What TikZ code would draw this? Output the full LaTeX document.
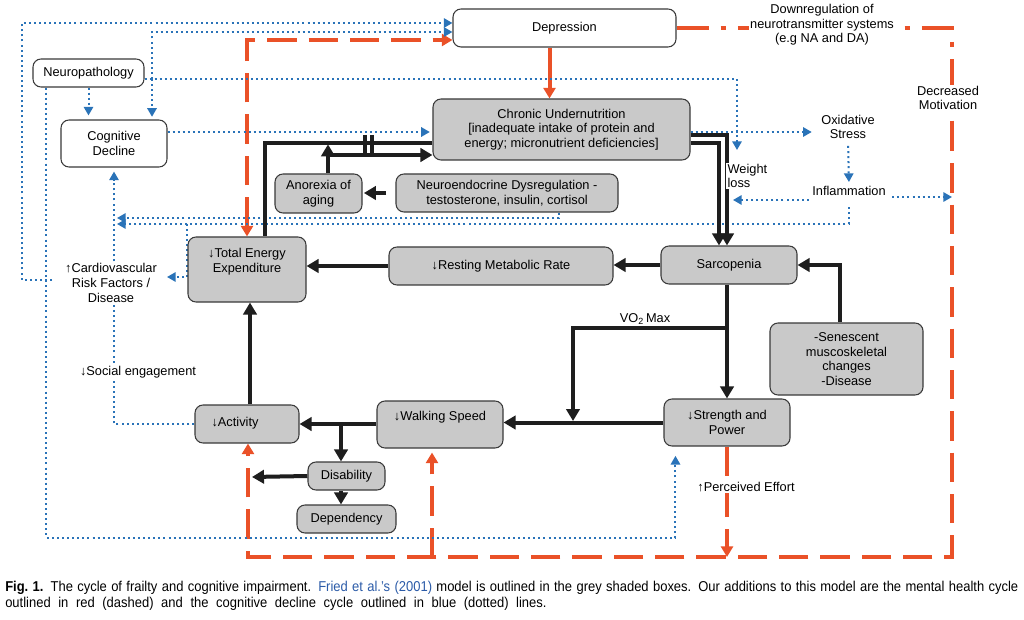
\documentclass[tikz,border=0pt]{standalone}
\usepackage{fontspec}
\setmainfont{Liberation Sans}
\newfontfamily\capfontb[FakeStretch=0.91]{Liberation Sans}
\usetikzlibrary{arrows.meta,calc}
\pgfdeclarelayer{bg}
\pgfsetlayers{bg,main}
\definecolor{rd}{HTML}{EA5128}
\definecolor{bl}{HTML}{2A73B8}
\definecolor{gfill}{HTML}{C9C9C9}
\definecolor{bord}{HTML}{3A3A3A}
\definecolor{blk}{HTML}{1E1E1E}
\definecolor{capblue}{HTML}{2B5BA8}
\begin{document}
\begin{tikzpicture}[x=0.75pt,y=-0.75pt,font=\fontsize{9.6pt}{11pt}\selectfont,
 wbox/.style={draw=bord,line width=0.8pt,rounded corners=6pt,fill=white,align=center,inner sep=0pt},
 gbox/.style={wbox,fill=gfill},
 txt/.style={align=center,inner sep=1pt},
 wtxt/.style={txt,fill=white},
 captxt/.style={anchor=base west,inner sep=0pt,font=\capfontb\fontsize{10.7pt}{12pt}\selectfont},
 blkline/.style={draw=blk,line width=3pt},
 blkarr/.style={blkline,-{Triangle[length=9pt,width=10pt]}},
 rdash/.style={draw=rd,line width=3pt,dash pattern=on 22pt off 9pt},
 rtip/.style={-{Triangle[length=8pt,width=9pt]}},
 bdot/.style={draw=bl,line width=1.5pt,dash pattern=on 1.5pt off 2.3pt,-{Triangle[length=6.5pt,width=7pt]}}
]
\useasboundingbox (0,0) rectangle (1024,620);
\begin{pgfonlayer}{bg}
\fill[white] (0,0) rectangle (1024,620);
\end{pgfonlayer}

% ---------- boxes ----------
\node[wbox,minimum width=167.25pt,minimum height=28.5pt] (dep) at (564.5,28) {Depression};
\node[wbox,minimum width=83.25pt,minimum height=21pt] (neuro) at (88.5,73) {Neuropathology};
\node[wbox,minimum width=79.5pt,minimum height=35.25pt] (cog) at (114,143.5) {Cognitive\\Decline};
\node[gbox,minimum width=192.75pt,minimum height=45.75pt] (cu) at (561.5,129.5) {Chronic Undernutrition\\{[}inadequate intake of protein and\\energy; micronutrient deficiencies]};
\node[gbox,minimum width=65.25pt,minimum height=29.25pt] (anor) at (318.5,193.5) {Anorexia of\\aging};
\node[gbox,minimum width=166.5pt,minimum height=28.5pt] (ne) at (507,193) {Neuroendocrine Dysregulation -\\testosterone, insulin, cortisol};
\node[gbox,minimum width=88.5pt,minimum height=48.75pt] (tee) at (247,269.5) {};
\node[txt] (teeT) at (247,262) {↓Total Energy\\Expenditure};
\node[gbox,minimum width=168pt,minimum height=28.5pt] (rmr) at (501,266) {↓Resting Metabolic Rate};
\node[gbox,minimum width=102pt,minimum height=28.5pt] (sarc) at (729,265) {Sarcopenia};
\node[gbox,minimum width=114.75pt,minimum height=54pt] (sen) at (846.5,359) {-Senescent\\muscoskeletal\\changes\\-Disease};
\node[gbox,minimum width=94.5pt,minimum height=35.25pt] (str) at (727,422.5) {↓Strength and\\Power};
\node[gbox,minimum width=94.5pt,minimum height=35.25pt] (walk) at (440,424.5) {};
\node[txt] (walkT) at (440,417) {↓Walking Speed};
\node[gbox,minimum width=78pt,minimum height=28.5pt] (act) at (247,424) {};
\node[txt] (actT) at (235,423) {↓Activity};
\node[gbox,minimum width=57.75pt,minimum height=21pt] (dis) at (346.5,476) {Disability};
\node[gbox,minimum width=74.25pt,minimum height=21pt] (depd) at (346.5,519) {Dependency};

% ---------- free texts ----------
\node[wtxt] (down) at (822,25) {Downregulation of\\neurotransmitter systems\\(e.g NA and DA)};
\node[wtxt] (motiv) at (948,98) {Decreased\\Motivation};
\node[txt] (oxi) at (848,127) {Oxidative\\Stress};
\node[wtxt,align=left,anchor=west] (wl) at (726,176) {Weight\\loss};
\node[txt] (infl) at (849,191) {Inflammation};
\node[wtxt] (cardio) at (111,283) {↑Cardiovascular\\Risk Factors /\\Disease};
\node[wtxt] (social) at (138,372) {↓Social engagement};
\node[txt] (vo) at (645,319) {VO\textsubscript{2}\,Max};
\node[wtxt] (pe) at (746,487) {↑Perceived Effort};

% ---------- coordinates ----------
\coordinate (rtr) at (952,28);
\coordinate (rmid) at (952,122);
\coordinate (rbr) at (952,557);
\coordinate (rbl) at (248,557);
\coordinate (wb) at (432,557);
\coordinate (cvl) at (52,280);
\coordinate (nj) at (152,79);
\coordinate (wlt) at (737,150);
\coordinate (wlb) at (733,200);
\coordinate (cda) at (117,221);
\coordinate (vb) at (727,328);
\coordinate (vt) at (573,421);
\coordinate (wd) at (341,424);
\coordinate (dl) at (252,477);

\begin{pgfonlayer}{bg}
% ---------- red (mental health) ----------
\draw[rdash,{Triangle[length=8pt,width=9pt]}-{Triangle[length=8pt,width=9pt]}] (tee.north) |- ($(dep.west)+(0,12)$);
\coordinate (dc) at ($(dep.south)+(-15,0)$);
\draw[draw=rd,line width=3pt,rtip] (dc) -- (dc |- cu.north);
\draw[draw=rd,line width=3pt,dash pattern=on 24pt off 9pt on 4pt off 9pt] (dep.east) -- (rtr) -- (rmid);
\draw[rdash,rtip] (rmid) -- (rbr) -- (rbl) -- (rbl |- act.south);
\draw[rdash,rtip,shorten >=3pt] (wb) -- (wb |- walk.south);
\draw[rdash,rtip] (str.south) -- (str.south |- rbr);

% ---------- blue (cognitive) ----------
\draw[bdot] (cvl) -| (22,23) -- ($(dep.west)+(0,-5)$);
\coordinate (nsw) at ($(neuro.south west)+(14,0)$);
\coordinate (sb) at ($(str.south west)+(12,0)$);
\draw[bdot,shorten >=7pt] (nsw) -- (nsw |- 0,538) -| (sb);
\coordinate (ne1) at ($(neuro.east)+(0,6)$);
\draw[bdot] (ne1) -| (wlt);
\draw[bdot] (nj) |- ($(dep.west)+(0,4)$);
\draw[bdot,shorten >=2pt] (nj) -- (nj |- cog.north);
\draw[bdot,shorten >=3pt] (neuro.south) -- (neuro.south |- cog.north);
\coordinate (c1) at ($(cog.east)+(0,-11.5)$);
\draw[bdot,shorten >=2pt] (c1) -- (c1 -| cu.west);
\coordinate (c2) at ($(cu.east)+(0,2.5)$);
\draw[bdot,shorten >=6pt] (c2) -- (c2 -| oxi.west);
\draw[bdot,shorten <=4pt,shorten >=2pt] (oxi.south) -- (infl.north);
\coordinate (i1) at ($(infl.west)+(-2,9)$);
\draw[bdot] (i1) -- (wlb);
\coordinate (i2) at ($(infl.east)+(5,6)$);
\draw[bdot] (i2) -- (i2 -| rtr);
\coordinate (i3) at ($(infl.south)+(0,10)$);
\draw[bdot] (i3) |- ($(cda)+(0,3)$);
\coordinate (n3) at ($(ne.south)+(52,0)$);
\draw[bdot] (n3) |- ($(cda)+(0,-3)$);
\coordinate (t1) at (187,224);
\coordinate (t3) at (167,277);
\draw[bdot] (t1) |- (t3);
\draw[bdot,shorten >=3pt] (act.west) -| (cog.south);

% ---------- black (Fried model) ----------
\coordinate (k1) at ($(cu.west)+(0,13.5)$);
\draw[blkline] (k1) -| ($(tee.north)+(18,0)$);
\draw[blkline,line width=2.5pt] (365,135) -- (365,153);
\draw[blkline,line width=2.5pt] (372,135) -- (372,153);
\coordinate (a1) at ($(anor.north)+(9.5,0)$);
\coordinate (a2) at ($(cu.west)+(0,25.5)$);
\draw[blkarr,shorten >=1pt] (a1) -- (a1 |- k1);
\draw[blkarr] (a2 -| a1) -- (a2);
\draw[blkarr,shorten <=7pt,shorten >=1pt] (ne.west) -- (ne.west -| anor.east);
\coordinate (o1) at ($(cu.east)+(0,6)$);
\coordinate (o2) at ($(cu.east)+(0,14)$);
\draw[blkarr] (o1) -| ($(sarc.north)+(-2,0)$);
\draw[blkarr] (o2) -| ($(sarc.north)+(-10,0)$);
\draw[blkarr] (sarc.west) -- (sarc.west -| rmr.east);
\draw[blkarr] (rmr.west) -- (rmr.west -| tee.east);
\coordinate (s1) at ($(sen.north)+(-6.5,0)$);
\draw[blkarr] (s1) |- (sarc.east);
\draw[blkarr] (sarc.south -| str.north) -- (str.north);
\draw[blkarr] (vb) -| (vt);
\draw[blkarr] (str.west) -- (str.west -| walk.east);
\draw[blkarr] ($(walk.west)+(0,-0.5)$) -- ($(walk.west -| act.east)+(0,-0.5)$);
\draw[blkarr] (wd) -- (wd |- dis.north);
\draw[blkarr] (dis.west) -- (dl);
\coordinate (dd) at ($(dis.south)+(-5.5,0)$);
\draw[blkarr] (dd) -- (dd |- depd.north);
\coordinate (at) at ($(act.north)+(3,0)$);
\draw[blkarr] (at) -- (at |- tee.south);
\end{pgfonlayer}

% ---------- caption ----------
\node[captxt] (cap1) at (5,591) {\makebox[759.75pt][s]{\textbf{Fig.~1.}\enspace The cycle of frailty and cognitive impairment. \textcolor{capblue}{Fried et al.’s (2001)} model is outlined in the grey shaded boxes. Our additions to this model are the mental health cycle}};
\node[captxt] (cap2) at (5,607) {\makebox[406pt][s]{outlined in red (dashed) and the cognitive decline cycle outlined in blue (dotted) lines.}};
\end{tikzpicture}
\end{document}
